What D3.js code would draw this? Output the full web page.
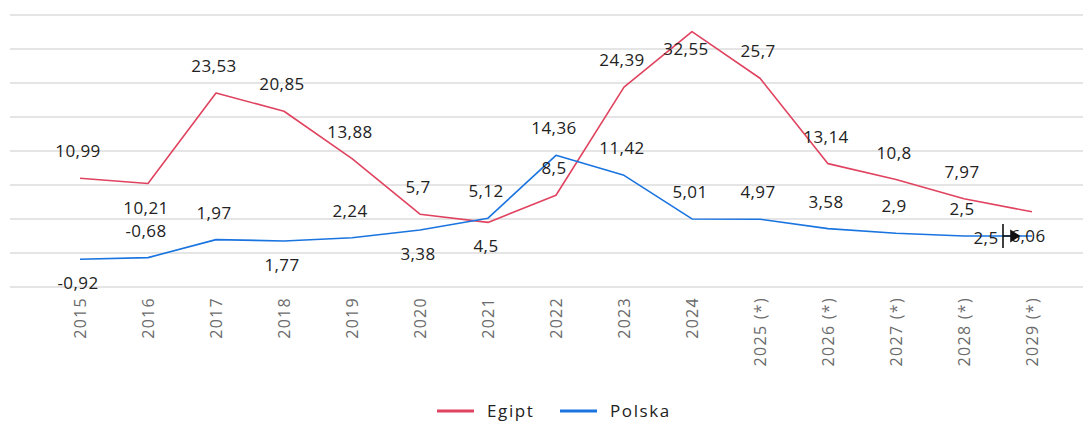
<!DOCTYPE html>
<html><head><meta charset="utf-8">
<script src="https://cdn.jsdelivr.net/npm/d3@7"></script>
<style>
body{margin:0;background:#fff;}
svg{display:block;font-family:"Open Sans","Noto Sans",sans-serif;}
</style></head>
<body><svg id="chart" width="1083" height="424"></svg>
<script>
const years = ["2015","2016","2017","2018","2019","2020","2021","2022","2023","2024","2025 (*)","2026 (*)","2027 (*)","2028 (*)","2029 (*)"];
const egipt = [10.99,10.21,23.53,20.85,13.88,5.7,4.5,8.5,24.39,32.55,25.7,13.14,10.8,7.97,6.06];
const polska = [-0.92,-0.68,1.97,1.77,2.24,3.38,5.12,14.36,11.42,5.01,4.97,3.58,2.9,2.5,2.5];
const yTicks = [-5,0,5,10,15,20,25,30,35];
const egiptLabelPlace = ["above","below","above","above","above","above","below","above","above","below","above","above","above","above","other"];
const polskaLabelPlace = ["below","above","above","below","above","below","above","above","above","above","above","above","above","above","left"];
const seriesNames = ["Egipt","Polska"];
const colors = ["#e0435f","#1a74e0"];

const svg = d3.select("#chart");
const x = d3.scalePoint().domain(years).range([80,1032]);
const y = d3.scaleLinear().domain([-5,35]).range([287,15]);

// gridlines
svg.append("g").selectAll("line").data(yTicks).join("line")
  .attr("x1",10).attr("x2",1083)
  .attr("y1",d=>y(d)).attr("y2",d=>y(d))
  .attr("stroke","#dcdcdc").attr("stroke-width",1.5);

// x axis labels
const xAxis = d3.axisBottom(x).tickSize(0).tickPadding(0);
const gx = svg.append("g").attr("transform","translate(0,296)").call(xAxis);
gx.select(".domain").remove();
gx.selectAll("text")
  .attr("transform","rotate(-90)")
  .attr("text-anchor","end")
  .attr("x",-1).attr("y",0).attr("dy","0.35em")
  .attr("font-family","'Open Sans','Noto Sans',sans-serif")
  .attr("font-size",16).attr("letter-spacing","1.3px")
  .attr("fill","#6b6b6b");

const line = d3.line().x((d,i)=>x(years[i])).y(d=>y(d));
const data = [egipt,polska];
data.forEach((s,k)=>{
  svg.append("path").datum(s).attr("d",line)
    .attr("fill","none").attr("stroke",colors[k]).attr("stroke-width",1.6)
    .attr("stroke-linejoin","round");
});

function fmt(v){return String(v).replace(".",",");}
const places = [egiptLabelPlace,polskaLabelPlace];
data.forEach((s,k)=>{
  svg.append("g").selectAll("text").data(s).join("text")
    .attr("x",(d,i)=>{
      const p = places[k][i];
      if(p==="left") return x(years[i]) - 46;
      if(p==="other") return x(years[i]) - 4;
      if(i===9 && k===0) return x(years[i]) - 6;
      return x(years[i]) - 2;
    })
    .attr("y",(d,i)=>{
      const p = places[k][i];
      if(p==="above") return y(d) - 27;
      if(p==="below") return y(d) + (i===9 ? 17 : 24);
      if(p==="left") return y(d) + 2;
      if(p==="other") return y(data[1-k][i]);
      return y(d);
    })
    .attr("dy","0.35em")
    .attr("text-anchor","middle")
    .attr("font-size",17).attr("letter-spacing","0.4px")
    .attr("fill","#222")
    .text(d=>fmt(d));
});

// mouse cursor artifact
const cx = 1003, cy = y(polska[14]);
svg.append("line").attr("x1",cx).attr("x2",cx).attr("y1",cy-12).attr("y2",cy+12)
  .attr("stroke","#111").attr("stroke-width",1.6);
svg.append("path").attr("d",`M${cx} ${cy}L${cx+8} ${cy}M${cx+8} ${cy-5}L${cx+16} ${cy}L${cx+8} ${cy+5}Z`)
  .attr("stroke","#111").attr("stroke-width",1.6).attr("fill","#111");

// legend
const legend = svg.append("g");
const legX = [437,560];
seriesNames.forEach((n,k)=>{
  legend.append("line").attr("x1",legX[k]).attr("x2",legX[k]+37)
    .attr("y1",411).attr("y2",411).attr("stroke",colors[k]).attr("stroke-width",3);
  legend.append("text").attr("x",legX[k]+50).attr("y",411).attr("dy","0.35em")
    .attr("font-size",17).attr("letter-spacing","1.6px").attr("fill","#222").text(n);
});
</script></body></html>
